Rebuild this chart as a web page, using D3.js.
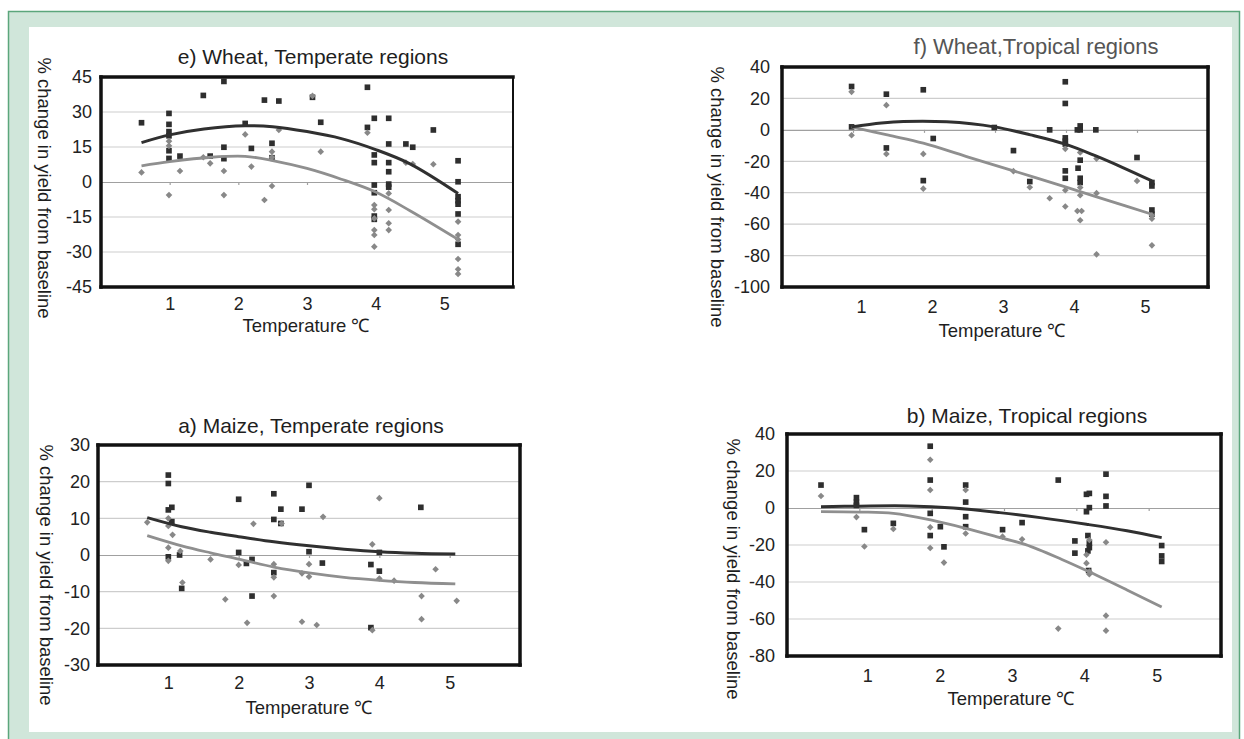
<!DOCTYPE html>
<html>
<head>
<meta charset="utf-8">
<script src="https://cdn.jsdelivr.net/npm/d3@7"></script>
<style>
  body { margin: 0; background: #ffffff; }
  text { font-family: "Liberation Sans", Arial, sans-serif; fill: #222; }
</style>
</head>
<body>
<div class="chart"></div>
<script>
// ---- data (x = temperature, y = % change) ----
var xTicks = [1, 2, 3, 4, 5];

// e) Wheat, Temperate
var wheatTempTicks = [-45, -30, -15, 0, 15, 30, 45];
var wheatTempSquares = [[0.59,25.4],[0.99,29.4],[0.99,24.7],[0.99,21.6],[0.99,19.8],[0.99,13.4],[0.99,10.1],[1.15,11.1],[1.49,37.1],[1.59,11.1],[1.79,43.1],[1.79,14.9],[1.79,10],[2.1,25.1],[2.19,14.4],[2.38,35.1],[2.49,16.6],[2.49,10.4],[2.59,34.7],[3.08,36.3],[3.2,25.6],[3.88,40.6],[3.88,23.4],[3.98,27.3],[3.98,11.6],[3.98,8.3],[3.98,-1.3],[3.98,-4.6],[3.98,-14.6],[3.98,-16],[4.19,27.3],[4.19,16.3],[4.19,8.3],[4.19,4.4],[4.19,-0.9],[4.19,-2.2],[4.44,16.3],[4.54,14.9],[4.84,22.3],[5.2,9.1],[5.2,0.1],[5.2,-6.3],[5.2,-8],[5.2,-9.5],[5.2,-13.7],[5.2,-26.7]];
var wheatTempDiamonds = [[0.59,4.1],[0.99,17.5],[0.99,15.5],[0.99,-5.6],[1.15,4.7],[1.49,10.6],[1.59,8],[1.79,4.7],[1.79,-5.6],[2.1,20.4],[2.19,6.6],[2.38,-7.7],[2.49,13],[2.49,10.6],[2.49,-1.7],[2.59,22.3],[3.08,36.9],[3.2,13],[3.88,21.1],[3.98,-9.9],[3.98,-11.7],[3.98,-15.6],[3.98,-20.6],[3.98,-22.7],[3.98,-27.7],[4.19,-4.9],[4.19,-12],[4.19,-17.7],[4.19,-20.6],[4.44,8.3],[4.54,7.7],[4.84,7.6],[5.2,-17],[5.2,-22.7],[5.2,-24.6],[5.2,-33],[5.2,-37.4],[5.2,-39.4]];
var wheatTempTrendDark = [[0.59,16.9],[1.0,20.2],[1.5,22.7],[2.1,24.1],[2.5,23.7],[3.0,21.6],[3.5,18.6],[4.0,13.9],[4.5,7.8],[5.2,-4.9]];
var wheatTempTrendGray = [[0.59,6.9],[1.0,8.7],[1.6,10.6],[2.1,11.0],[2.5,9.2],[3.0,5.8],[3.5,1.2],[4.0,-4.3],[4.5,-12.3],[5.2,-24.6]];

// f) Wheat, Tropical
var wheatTropTicks = [-100, -80, -60, -40, -20, 0, 20, 40];
var wheatTropSquares = [[0.98,27.6],[0.98,1.9],[1.47,22.7],[1.47,-11.5],[1.99,25.5],[1.99,-32.3],[2.13,-5.5],[2.99,1.5],[3.26,-13.2],[3.49,-32.9],[3.77,0],[3.99,30.6],[3.99,16.8],[3.99,-5.1],[3.99,-7.2],[3.99,-9],[3.99,-26.1],[3.99,-30.8],[4.16,0],[4.2,2.5],[4.2,0],[4.2,-19.3],[4.17,-24.4],[4.2,-30.8],[4.2,-33.5],[4.42,0],[5.0,-17.6],[5.21,-33.5],[5.21,-35.7],[5.21,-51],[5.21,-53.7]];
var wheatTropDiamonds = [[0.98,24.2],[0.98,-3.4],[1.47,15.7],[1.47,-15.3],[1.99,-15.3],[1.99,-37.4],[3.26,-26.3],[3.49,-36.5],[3.77,-43.5],[3.99,-12.1],[3.99,-38.4],[3.99,-48.8],[4.2,-14.4],[4.2,-36.7],[4.2,-41.6],[4.16,-51.6],[4.22,-51.6],[4.2,-57.5],[4.43,-18.3],[4.43,-40.3],[4.43,-79.2],[5.0,-32.5],[5.21,-54.4],[5.21,-56.5],[5.21,-73.5]];
var wheatTropTrendDark = [[0.98,1.9],[1.4,4.3],[1.71,5.3],[2.32,5.1],[2.99,1.9],[3.5,-3.2],[3.99,-9.1],[4.42,-16.6],[4.8,-24],[5.21,-32.5]];
var wheatTropTrendGray = [[0.98,1.9],[1.5,-3.4],[1.99,-8.5],[2.6,-17],[3.26,-26.1],[3.99,-36.3],[4.6,-45],[5.21,-53.7]];

// a) Maize, Temperate
var maizeTempTicks = [-30, -20, -10, 0, 10, 20, 30];
var maizeTempSquares = [[1.0,21.8],[1.0,19.5],[1.0,12.3],[1.05,13],[1.05,9.1],[1.0,-0.5],[1.16,0],[1.19,-9.1],[2.0,15.2],[2.0,0.7],[2.11,-2.3],[2.19,-1.2],[2.19,-11.2],[2.5,16.7],[2.5,9.7],[2.5,-4.8],[2.6,12.5],[2.6,8.6],[2.9,12.5],[3.0,19],[3.0,0.9],[3.19,-2.2],[3.88,-2.6],[3.88,-19.8],[4.0,0.7],[4.0,-4.4],[4.59,13]];
var maizeTempDiamonds = [[0.7,8.9],[1.0,10],[1.0,7.9],[1.06,5.5],[1.0,2],[1.17,1.1],[1.0,-1.6],[1.2,-7.5],[1.6,-1.2],[1.81,-12.1],[2.0,-2.7],[2.12,-18.5],[2.21,8.5],[2.5,-2.5],[2.5,-6.1],[2.5,-11.2],[2.61,8.6],[2.9,-5],[2.9,-18.2],[3.0,-2.5],[3.0,-5.9],[3.11,-19.1],[3.2,10.4],[3.9,2.9],[4.0,15.5],[4.0,-6.4],[4.21,-7],[3.9,-20.5],[4.6,-11.2],[4.6,-17.5],[4.8,-3.9],[5.1,-12.5]];
var maizeTempTrendDark = [[0.7,10.2],[1.19,7.7],[1.6,6.2],[2.0,5.0],[2.5,3.6],[3.0,2.5],[3.5,1.6],[4.0,0.9],[4.5,0.5],[5.08,0.3]];
var maizeTempTrendGray = [[0.7,5.3],[1.19,2.5],[1.6,0.6],[2.0,-1.1],[2.5,-3.3],[3.0,-4.9],[3.5,-6.1],[4.0,-6.9],[4.5,-7.5],[5.08,-7.9]];

// b) Maize, Tropical
var maizeTropTicks = [-80, -60, -40, -20, 0, 20, 40];
var maizeTropSquares = [[0.47,12.4],[0.96,5.6],[0.96,3.1],[0.96,1.4],[1.07,-11.7],[1.47,-8.3],[1.98,33.4],[1.98,15.1],[1.98,-2.9],[1.98,-14.9],[2.12,-10.1],[2.17,-21],[2.47,12.4],[2.47,3.2],[2.47,-4.7],[2.47,-10.1],[2.98,-11.7],[3.25,-7.9],[3.75,15.1],[3.98,-17.8],[3.98,-24.4],[4.14,7.4],[4.18,7.9],[4.14,-2],[4.18,0.2],[4.16,-14.9],[4.18,-19],[4.18,-21.4],[4.16,-23.2],[4.17,-33.8],[4.41,18.3],[4.41,6.3],[4.41,1.1],[5.18,-20.3],[5.18,-25.9],[5.18,-28.9]];
var maizeTropDiamonds = [[0.47,6.5],[0.96,-4.9],[1.07,-20.8],[1.47,-11.3],[1.98,26.1],[1.98,9.7],[1.98,-10.4],[1.98,-21.6],[2.17,-29.5],[2.47,9.7],[2.47,-13.8],[2.98,-15.5],[3.25,-16.9],[3.75,-65.2],[4.14,-25.3],[4.14,-29.8],[4.18,-34.3],[4.18,-35.8],[4.18,-17.3],[4.41,-18.5],[4.41,-58.2],[4.41,-66.3]];
var maizeTropTrendDark = [[0.47,0.7],[1.0,1.0],[1.68,1.1],[2.3,0],[2.94,-2.5],[3.5,-5.2],[4.14,-8.8],[4.7,-12.3],[5.18,-16]];
var maizeTropTrendGray = [[0.47,-2],[1.0,-2.2],[1.47,-2.9],[2.0,-6.6],[2.47,-11],[3.0,-16.6],[3.3,-19.8],[3.8,-27.8],[4.14,-33.8],[4.7,-44.3],[5.18,-53.5]];

var svgWidth = 1244;
var svgHeight = 739;

var svg = d3.select(".chart")
  .append("svg")
  .attr("width", svgWidth)
  .attr("height", svgHeight)
  .style("display", "block");

// page frame
svg.append("rect")
  .attr("x", 0).attr("y", 0)
  .attr("width", svgWidth).attr("height", svgHeight)
  .attr("fill", "#ffffff");
svg.append("rect")
  .attr("x", 8.5).attr("y", 11.5)
  .attr("width", 1231).attr("height", 740)
  .attr("fill", "#d0e6da")
  .attr("stroke", "#5ba67c")
  .attr("stroke-width", 1.5);
svg.append("rect")
  .attr("x", 29).attr("y", 27)
  .attr("width", 1203).attr("height", 705)
  .attr("fill", "#ffffff");

var panels = [
  { title: "e) Wheat, Temperate regions", titleX: 313, titleY: 64, titleColor: "#1e1e1e", titleSize: 21,
    box: [101, 77, 513, 287], yDomain: [-45, 45], yTicks: wheatTempTicks,
    squares: wheatTempSquares, diamonds: wheatTempDiamonds, dark: wheatTempTrendDark, gray: wheatTempTrendGray,
    xPad: 10, xShift: 0, yPad: 9, xTitleX: 306, xTitleY: 332, yTitleX: 44, yTitleY: 188, rightW: 2 },
  { title: "f) Wheat,Tropical regions", titleX: 1036, titleY: 54, titleColor: "#555", titleSize: 22,
    box: [782, 67, 1208, 287], yDomain: [-100, 40], yTicks: wheatTropTicks,
    squares: wheatTropSquares, diamonds: wheatTropDiamonds, dark: wheatTropTrendDark, gray: wheatTropTrendGray,
    xPad: 13, xShift: 8, yPad: 12, xTitleX: 1002, xTitleY: 337, yTitleX: 717, yTitleY: 197, rightW: 3.5 },
  { title: "a) Maize, Temperate regions", titleX: 311, titleY: 433, titleColor: "#1e1e1e", titleSize: 21,
    box: [98, 445, 520, 665], yDomain: [-30, 30], yTicks: maizeTempTicks,
    squares: maizeTempSquares, diamonds: maizeTempDiamonds, dark: maizeTempTrendDark, gray: maizeTempTrendGray,
    xPad: 11, xShift: 0, yPad: 8, xTitleX: 309, xTitleY: 714, yTitleX: 46, yTitleY: 575, rightW: 3.5 },
  { title: "b) Maize, Tropical regions", titleX: 1027, titleY: 423, titleColor: "#1e1e1e", titleSize: 21,
    box: [787, 434, 1221, 656], yDomain: [-80, 40], yTicks: maizeTropTicks,
    squares: maizeTropSquares, diamonds: maizeTropDiamonds, dark: maizeTropTrendDark, gray: maizeTropTrendGray,
    xPad: 13, xShift: 8, yPad: 12, xTitleX: 1011, xTitleY: 705, yTitleX: 733, yTitleY: 569, rightW: 3.5 }
];

panels.forEach(drawPanel);

function drawPanel(p) {
  var left = p.box[0], top = p.box[1], right = p.box[2], bottom = p.box[3];
  var g = svg.append("g");

  var xScale = d3.scaleLinear().domain([0, 6]).range([left, right]);
  var yScale = d3.scaleLinear().domain(p.yDomain).range([bottom, top]);

  // gridlines
  g.append("g")
    .selectAll("line")
    .data(p.yTicks.filter(function (t) { return t !== 0 && t !== p.yDomain[0] && t !== p.yDomain[1]; }))
    .enter()
    .append("line")
    .attr("x1", left).attr("x2", right)
    .attr("y1", function (d) { return yScale(d); })
    .attr("y2", function (d) { return yScale(d); })
    .attr("stroke", "#cdcdcd")
    .attr("stroke-width", 1.2);

  // zero line with small ticks
  var zeroAxis = d3.axisBottom(xScale).tickValues(xTicks).tickSize(3).tickSizeOuter(0).tickFormat("");
  var zg = g.append("g")
    .attr("transform", "translate(0," + yScale(0) + ")")
    .call(zeroAxis);
  zg.selectAll("path, line").attr("stroke", "#a0a0a0").attr("stroke-width", 1.2);

  // left axis labels (plain hyphen for negatives, as in the source)
  var leftAxis = d3.axisLeft(yScale).tickValues(p.yTicks).tickSize(0).tickPadding(p.yPad)
    .tickFormat(function (d) { return String(d); });
  var lg = g.append("g")
    .attr("transform", "translate(" + left + ",0)")
    .call(leftAxis);
  lg.select(".domain").remove();
  lg.selectAll("text")
    .style("font-size", "18px")
    .style("font-family", "Liberation Sans, Arial, sans-serif")
    .attr("fill", "#1e1e1e");

  // bottom axis labels
  var bottomAxis = d3.axisBottom(xScale).tickValues(xTicks).tickSize(0).tickPadding(p.xPad)
    .tickFormat(function (d) { return String(d); });
  var bg = g.append("g")
    .attr("transform", "translate(0," + bottom + ")")
    .call(bottomAxis);
  bg.select(".domain").remove();
  bg.selectAll("text")
    .attr("dx", p.xShift)
    .style("font-size", "18px")
    .style("font-family", "Liberation Sans, Arial, sans-serif")
    .attr("fill", "#1e1e1e");

  // squares
  g.append("g")
    .selectAll("path")
    .data(p.squares)
    .enter()
    .append("path")
    .attr("d", d3.symbol().type(d3.symbolSquare).size(32))
    .attr("transform", function (d) { return "translate(" + xScale(d[0]) + "," + yScale(d[1]) + ")"; })
    .attr("fill", "#2e2e2e");

  // diamonds
  g.append("g")
    .selectAll("path")
    .data(p.diamonds)
    .enter()
    .append("path")
    .attr("d", d3.symbol().type(d3.symbolDiamond2).size(28))
    .attr("transform", function (d) { return "translate(" + xScale(d[0]) + "," + yScale(d[1]) + ")"; })
    .attr("fill", "#888888");

  // trendlines
  var line = d3.line()
    .x(function (d) { return xScale(d[0]); })
    .y(function (d) { return yScale(d[1]); })
    .curve(d3.curveCatmullRom.alpha(0.5));

  g.append("path")
    .datum(p.gray)
    .attr("d", line)
    .attr("fill", "none")
    .attr("stroke", "#8f8f8f")
    .attr("stroke-width", 2.8);

  g.append("path")
    .datum(p.dark)
    .attr("d", line)
    .attr("fill", "none")
    .attr("stroke", "#303030")
    .attr("stroke-width", 3);

  // plot frame
  var frame = [
    [left, top, right, top, 3.5],
    [left, bottom, right, bottom, 3.5],
    [left, top, left, bottom, 3.5],
    [right, top, right, bottom, p.rightW]
  ];
  g.append("g")
    .selectAll("line")
    .data(frame)
    .enter()
    .append("line")
    .attr("x1", function (d) { return d[0]; })
    .attr("y1", function (d) { return d[1]; })
    .attr("x2", function (d) { return d[2]; })
    .attr("y2", function (d) { return d[3]; })
    .attr("stroke", "#111")
    .attr("stroke-width", function (d) { return d[4]; })
    .attr("stroke-linecap", "square");

  // titles
  g.append("text")
    .attr("x", p.titleX)
    .attr("y", p.titleY)
    .style("text-anchor", "middle")
    .style("font-size", p.titleSize + "px")
    .style("fill", p.titleColor)
    .text(p.title);

  g.append("text")
    .attr("x", p.xTitleX)
    .attr("y", p.xTitleY)
    .style("text-anchor", "middle")
    .style("font-size", "18.5px")
    .style("fill", "#1e1e1e")
    .text("Temperature \u2103");

  g.append("text")
    .attr("transform", "translate(" + p.yTitleX + "," + p.yTitleY + ") rotate(90)")
    .attr("dy", "0.35em")
    .style("text-anchor", "middle")
    .style("font-size", "18.5px")
    .style("fill", "#1e1e1e")
    .text("% change in yield from baseline");
}
</script>
</body>
</html>
